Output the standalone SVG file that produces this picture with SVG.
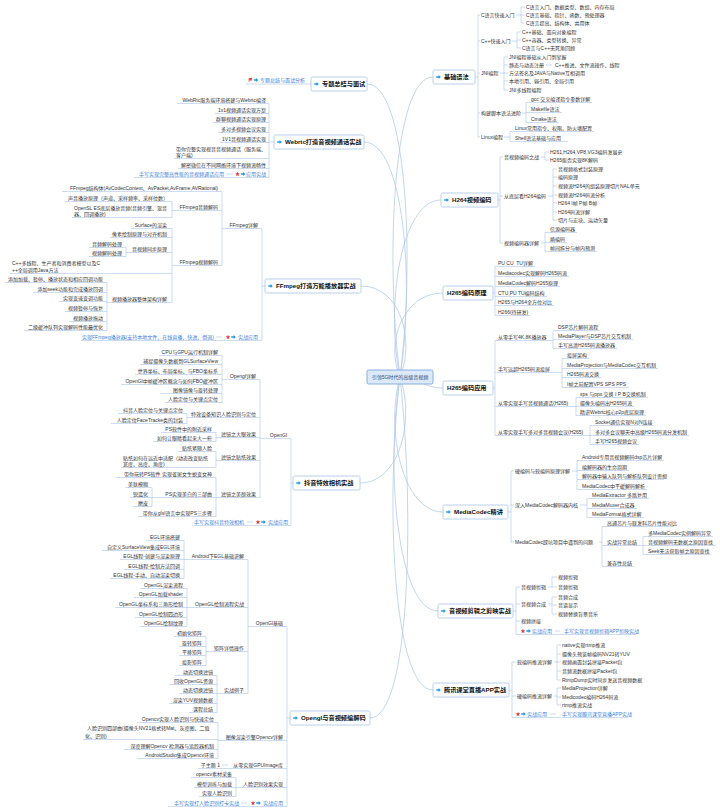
<svg xmlns="http://www.w3.org/2000/svg" width="720" height="811" viewBox="0 0 720 811">
<defs>
<style>
text{font-family:"Liberation Sans","Noto Sans CJK SC",sans-serif;font-size:5px;fill:#333}
.e{text-anchor:end}
.k{fill:#3a7fdc}
.n{font-size:6.2px;font-weight:bold;fill:#111}
.r{text-anchor:middle;fill:#2a4f80}
.ln{fill:none;stroke:#a9c5e8;stroke-width:0.6}
.cv{fill:none;stroke:#b3cbea;stroke-width:0.8}
.box{fill:#fff;stroke:#a7c4e8;stroke-width:0.8}
.root{fill:#dbe9f8;stroke:#6f9fd8;stroke-width:0.8}
</style>
<symbol id="arr" viewBox="0 0 10 10"><path d="M0.5 3.6H5.2V0.8L9.6 5 5.2 9.2V6.4H0.5Z" fill="#1f9be6"/></symbol>
<symbol id="star" viewBox="0 0 10 10"><polygon points="5,0.5 6.3,3.6 9.6,3.8 7,6 7.9,9.3 5,7.5 2.1,9.3 3,6 0.4,3.8 3.7,3.6" fill="#e23b3b"/></symbol>
<symbol id="flag" viewBox="0 0 10 10"><path d="M2 1V9.5" stroke="#e23b3b" stroke-width="1.2"/><path d="M2.5 1.2H8.6L7 3.5 8.6 5.8H2.5Z" fill="#e23b3b"/></symbol>
</defs>
<rect width="720" height="811" fill="#fff"/>

<g id="connectors">
<path class="cv" d="M400 377C385 257 393 77 433 77M400 377C385 306 401 200 441 200M400 377C385 343 403 293 443 293M400 377C420 378 423 388 443 388M400 377C385 431 403 512 443 512M400 377C385 471 398 611 438 611M400 377C385 502 393 690 433 690M400 377C415 260 407 84 367 84M400 377C415 283 404 142 364 142M400 377C415 341 401 286 361 286M400 377C415 419 400 483 360 483M400 377C415 513 410 718 370 718"/>
<path class="ln" d="M475 77H478M478 15V137M478 15H480M478 41H480M478 73H480M478 113H480M478 137H480
M516 15H521M521 7V23M521 7H525M521 15H525M521 23H525
M512 41H517M517 32V48M517 32H521M517 40H521M517 48H521
M500 73H504M504 57V90M504 57H508M504 65H508M504 73H508M504 81H508M504 90H508M546 65H552
M522 113H526M526 102.5V122.5M526 102.5H592M526 112.5H562M526 122.5H559
M504 137H510M510 131.5V141.5M510 131.5H594M510 141.5H568"/>
<path class="ln" d="M498 200H500M500 157V243M500 157H503M500 196H503M500 243H503
M541 157H545M545 152V160M545 152H549M545 160H549
M548 196H553M553 169V220M553 169H557M553 177H557M553 186H557M553 195H557M553 203H557M553 212H557M553 220H557
M541 243H545M545 232.5V251.5M545 232.5H577M545 242.5H567M545 251.5H597"/>
<path class="ln" d="M493 293H495M495 266.5V315.5M495 266.5H535M495 276.5H569M495 286.5H560M495 296.5H547M495 305.5H554M495 315.5H530"/>
<path class="ln" d="M493 388H495M495 340.5V435.5M495 340.5H553M495 372.5H562M495 406.5H576M495 435.5H590
M553 330.5V348.5M553 330.5H600M553 339.5H633M553 348.5H617
M562 358.5V387.5M562 358.5H589M562 368.5H658M562 377.5H601M562 387.5H629
M576 397.5V415.5M576 397.5H648M576 406.5H634M576 415.5H646
M590 425.5V444.5M590 425.5H654M590 435.5H689M590 444.5H639"/>
<path class="ln" d="M508 512H511M511 471V542M511 471H514M511 505H514M511 542H514
M572 471H577M577 460.5V489.5M577 460.5H664M577 470.5H629M577 479.5H664M577 489.5H647
M580 505H587M587 498.5V517.5M587 498.5H649M587 508.5H637M587 517.5H644
M599 542H602M602 526.5V566.5M602 526.5H674M602 545.5H643M602 566.5H634
M643 536.5V554.5M643 536.5H713M643 545.5H715M643 554.5H711"/>
<path class="ln" d="M513 611H516M516 587V634.5M516 587H520M516 604H520M516 621H520M516 634.5H636
M548 587H552M552 577V587M552 577H557M552 587H557
M548 604H552M552 597V614M552 597H557M552 605H557M552 614H557M555 631H560"/>
<path class="ln" d="M509 690H512M512 662V717.5M512 662H516M512 696H516M512 717.5H628
M554 662H557M557 645V680M557 645H561M557 654H561M557 662H561M557 671H561M557 680H561
M554 696H557M557 688V705M557 688H561M557 697H561M557 705H561M550 714H556"/>
<path class="ln" d="M246 84H311"/>
<path class="ln" d="M269 142H274M269 103.5V177.5M177 103.5H269M215 113.5H269M213 122.5H269M218 132.5H269M220 142.5H269M174 158.5H269M178 168.5H269M134 177.5H269M226 174H233"/>
<path class="ln" d="M262 286H265M262 228.5V340.5M222 228.5H262M222 191.5V265.5M62 191.5H222
M172 210.5H222M172 201.5V217.5M65 201.5H172M72 217.5H172
M172 265.5H222M172 228.5V302.5M131 228.5H172M110 237.5H172M126 252.5H172M126 247.5V256.5M89 247.5H126M89 256.5H126M10 273.5H172
M107 302.5H172M107 282.5V330.5M5 282.5H107M33 292.5H107M59 301.5H107M65 311.5H107M69 321.5H107M24 330.5H107
M81 340.5H262M216 337H222"/>
<path class="ln" d="M291 483H293M291 438.5V525.5M260 438.5H291M260 379.5V497.5
M222 379.5H260M222 355.5V402.5M159 355.5H222M140 364.5H222M135 374.5H222M121 384.5H222M160 393.5H222M165 402.5H222
M187 417.5H260M187 413.5V423.5M118 413.5H187M111 423.5H187
M216 437.5H260M216 432.5V441.5M161 432.5H216M153 441.5H216
M216 460.5H260M216 451.5V467.5M178 451.5H216M121 467.5H216
M216 497.5H260M216 477.5V516.5M116 477.5H216M152 497.5H216M152 487.5V506.5M125 487.5H152M130 497.5H152M133 506.5H152M138 516.5H216
M192 525.5H291M247 522H253"/>
<path class="ln" d="M287 718H290M287 626.5V806.5M248 626.5H287M248 559.5V693.5
M184 559.5H248M184 540.5V578.5M146 540.5H184M102 550.5H184M120 559.5H184M124 569.5H184M110 578.5H184
M187 607.5H248M187 588.5V626.5M140 588.5H187M134 597.5H187M115 607.5H187M135 617.5H187M140 626.5H187
M206 651.5H248M206 636.5V665.5M174 636.5H206M179 646.5H206M179 655.5H206M179 665.5H206
M217 693.5H248M217 675.5V712.5M175 675.5H217M169 684.5H217M179 693.5H217M169 703.5H217M189 712.5H217
M218 740.5H287M218 722.5V758.5M137 722.5H218M83 739.5H218M124 749.5H218M137 758.5H218
M198 768.5H287M222 765H228
M236 787.5H287M236 777.5V796.5M191 777.5H236M194 787.5H236M199 796.5H236
M168 806.5H287M241 803H247"/>
</g>

<g id="root"><rect class="root" x="367" y="370" width="66" height="14" rx="1.5"/><text class="r" x="400" y="378.8">引领5G时代的高级音视频</text></g>

<g id="n-jichu"><rect class="box" x="433" y="70" width="42" height="14" rx="1.5"/><use href="#arr" x="436" y="74.5" width="5" height="5"/><text class="n" x="444" y="79.2">基础语法</text></g>
<g id="t-jichu">
<text x="481" y="16.8">C语言快速入门</text>
<text x="526" y="8.8">C语言入门、数据类型、数组、内存布局</text>
<text x="526" y="16.8">C语言基础、指针、函数、预处理器</text>
<text x="526" y="24.8">C语言提高、结构体、共用体</text>
<text x="481" y="42.8">C++快速入门</text>
<text x="522" y="33.8">C++基础、面向对象编程</text>
<text x="522" y="41.8">C++容器、类型转换、异常</text>
<text x="522" y="49.8">C语言与C++无死角回顾</text>
<text x="481" y="74.8">JNI编程</text>
<text x="509" y="58.8">JNI编程基础从入门到掌握</text>
<text x="509" y="66.8">静态与动态注册</text>
<text x="555" y="66.8">C++推进、文件流操作、线程</text>
<text x="509" y="74.8">方法签名及JAVA与Native互相调用</text>
<text x="509" y="82.8">本地引用、弱引用、全局引用</text>
<text x="509" y="91.8">JNI多线程编程</text>
<text x="481" y="114.8">构建脚本语法进阶</text>
<text x="531" y="100.8">gcc 交叉编译指令参数详解</text>
<text x="531" y="110.8">Makefile语法</text>
<text x="531" y="120.8">Cmake语法</text>
<text x="481" y="138.8">Linux编程</text>
<text x="515" y="129.8">Linux常用指令、权限、防火墙配置</text>
<text x="515" y="139.8">Shell语法基础与应用</text>
</g>

<g id="n-h264"><rect class="box" x="441" y="193" width="57" height="14" rx="1.5"/><use href="#arr" x="444" y="197.5" width="5" height="5"/><text class="n" x="452" y="202.2">H264视频编码</text></g>
<g id="t-h264">
<text x="504" y="158.8">音视频编码之战</text>
<text x="550" y="153.8">H261,H264,VP8,VG3编码发展史</text>
<text x="550" y="161.8">H265能否实现8K解码</text>
<text x="504" y="197.8">从底层看H264编码</text>
<text x="558" y="170.8">音视频格式封装原理</text>
<text x="558" y="178.8">编码原理</text>
<text x="558" y="187.8">视频流H264的组装原理切片NAL单元</text>
<text x="558" y="196.8">视频流H264码流分析</text>
<text x="558" y="204.8">H264 I帧 P帧 B帧</text>
<text x="558" y="213.8">H264码流详解</text>
<text x="558" y="221.8">切片与宏块、运动矢量</text>
<text x="504" y="244.8">视频编码器详解</text>
<text x="550" y="230.8">信源编码器</text>
<text x="550" y="240.8">熵编码</text>
<text x="550" y="249.8">帧间拆分与帧内预测</text>
</g>

<g id="n-h265y"><rect class="box" x="443" y="286" width="50" height="14" rx="1.5"/><text class="n" x="447" y="295.2">H265编码原理</text></g>
<g id="t-h265y">
<text x="498" y="264.8">PU CU&#160; TU详解</text>
<text x="498" y="274.8">Mediacodec实现解码H265码流</text>
<text x="498" y="284.8">MediaCodec解码H265原理</text>
<text x="498" y="294.8">CTU,PU TU编码结构</text>
<text x="498" y="303.8">H265与H264全方位对比</text>
<text x="498" y="313.8">H266(待研发)</text>
</g>

<g id="n-h265a"><rect class="box" x="443" y="381" width="50" height="14" rx="1.5"/><text class="n" x="447" y="390.2">H265编码应用</text></g>
<g id="t-h265a">
<text x="498" y="338.8">从零手写4K,8K播放器</text>
<text x="558" y="328.8">DSP芯片解码流程</text>
<text x="558" y="337.8">MediaPlayer与DSP芯片交互机制</text>
<text x="558" y="346.8">手写高清H265码流播放器</text>
<text x="498" y="370.8">手写远超H265码流投屏</text>
<text x="567" y="356.8">投屏架构</text>
<text x="567" y="366.8">MediaProjection与MediaCodec交互机制</text>
<text x="567" y="375.8">H265码流交换</text>
<text x="567" y="385.8">I帧之前配置VPS SPS PPS</text>
<text x="498" y="404.8">从零实现手写音视频通话(H265)</text>
<text x="580" y="395.8">sps 与pps 交换 I P B交换机制</text>
<text x="580" y="404.8">摄像头编码出H265码流</text>
<text x="580" y="413.8">精讲Webrtc核心p2p底层原理</text>
<text x="498" y="433.8">从零实现手写多对多音视频会议(H265)</text>
<text x="595" y="423.8">Socket通信实现N对N连接</text>
<text x="595" y="433.8">多对多会议聊天中高级H265码流分发机制</text>
<text x="595" y="442.8">手写H265视频会议</text>
</g>

<g id="n-mc"><rect class="box" x="443" y="505" width="65" height="14" rx="1.5"/><use href="#arr" x="446" y="509.5" width="5" height="5"/><text class="n" x="454" y="514.2">MediaCodec精讲</text></g>
<g id="t-mc">
<text x="515" y="472.8">硬编码与软编码原理详解</text>
<text x="582" y="458.8">Android专用音视频解码dsp芯片详解</text>
<text x="582" y="468.8">编解码器的生命周期</text>
<text x="582" y="477.8">解码器中输入队列与解析队列设计思想</text>
<text x="582" y="487.8">MediaCodec中平缓解码解析</text>
<text x="515" y="506.8">深入MediaCodec解码器内核</text>
<text x="592" y="496.8">MediaExtractor 多路复用</text>
<text x="592" y="506.8">MediaMuxer合成器</text>
<text x="592" y="515.8">MediaFormat格式详解</text>
<text x="515" y="543.8">MediaCodec踩坑项目中遇到的问题</text>
<text x="607" y="524.8">高通芯片与联发科芯片性能对比</text>
<text x="607" y="543.8">实战异常总结</text>
<text x="607" y="564.8">兼容性总结</text>
<text x="648" y="534.8">多MediaCodec实例解码异常</text>
<text x="648" y="543.8">音视频解码无数据之原因查找</text>
<text x="648" y="552.8">Seek无法获取帧之原因查找</text>
</g>

<g id="n-jy"><rect class="box" x="438" y="604" width="75" height="14" rx="1.5"/><use href="#arr" x="441" y="608.5" width="5" height="5"/><text class="n" x="449" y="613.2">音视频剪辑之剪映实战</text></g>
<g id="t-jy">
<text x="521" y="588.8">音视频剪辑</text>
<text x="558" y="578.8">视频剪辑</text>
<text x="558" y="588.8">音频剪辑</text>
<text x="521" y="605.8">音视频合成</text>
<text x="558" y="598.8">音频合成</text>
<text x="558" y="606.8">音谱显示</text>
<text x="558" y="615.8">视频替换背景音乐</text>
<text x="521" y="622.8">视频拼接</text>
<use href="#star" x="520.5" y="628.5" width="5" height="5"/><use href="#arr" x="526" y="628.5" width="5" height="5"/>
<text class="k" x="532" y="632.8">实战应用</text>
<text class="k" x="564" y="632.8">手写实现音视频剪辑APP剪映实战</text>
</g>

<g id="n-tx"><rect class="box" x="433" y="683" width="76" height="14" rx="1.5"/><use href="#arr" x="436" y="687.5" width="5" height="5"/><text class="n" x="444" y="692.2">腾讯课堂直播APP实战</text></g>
<g id="t-tx">
<text x="517" y="663.8">软编码推流详解</text>
<text x="562" y="646.8">native实现rtmp推流</text>
<text x="562" y="655.8">摄像头预览帧编码NV21转YUV</text>
<text x="562" y="663.8">视频画面封装拼接Packet包</text>
<text x="562" y="672.8">音频流数据拼接Packet包</text>
<text x="562" y="681.8">RtmpDump实时同步发送音视频数据</text>
<text x="517" y="697.8">硬编码推流详解</text>
<text x="562" y="689.8">MediaProjection详解</text>
<text x="562" y="698.8">Medicodec编码H264码流</text>
<text x="562" y="706.8">rtmp推流实战</text>
<use href="#star" x="515.5" y="711.5" width="5" height="5"/><use href="#arr" x="521" y="711.5" width="5" height="5"/>
<text class="k" x="527" y="715.8">实战应用</text>
<text class="k" x="562" y="715.8">手写实现腾讯课堂直播APP实战</text>
</g>

<g id="n-zt"><rect class="box" x="311" y="77" width="56" height="14" rx="1.5"/><use href="#arr" x="314" y="81.5" width="5" height="5"/><text class="n" x="322" y="86.2">专题总结与面试</text></g>
<g id="t-zt">
<use href="#flag" x="248" y="77.5" width="5" height="5"/><use href="#arr" x="253.5" y="77.5" width="5" height="5"/>
<text class="k" x="260" y="81.8">专题总结与面试分析</text>
</g>

<g id="n-webrtc"><rect class="box" x="274" y="135" width="90" height="14" rx="1.5"/><use href="#arr" x="277" y="139.5" width="5" height="5"/><text class="n" x="285" y="144.2">Webrtc打造音视频通话实战</text></g>
<g id="t-webrtc">
<text class="e" x="266" y="101.8">WebRtc服务端环境搭建与Webrtc编译</text>
<text class="e" x="266" y="111.8">1v1视频通话实现方案</text>
<text class="e" x="266" y="120.8">群聊视频通话实现原理</text>
<text class="e" x="266" y="130.8">多对多视频会议实现</text>
<text class="e" x="266" y="140.8">1V1音视频通话实现</text>
<text x="176" y="150.8">带你完整实现视音音视频通话（服务端、<tspan x="176" dy="6">客户端)</tspan></text>
<text class="e" x="266" y="166.8">解密微信在不同网络环境下视频流畅性</text>
<text class="e k" x="266" y="175.8">应用实战</text>
<use href="#arr" x="240.5" y="171.5" width="5" height="5"/><use href="#star" x="235" y="171.5" width="5" height="5"/>
<text class="e k" x="224" y="175.8">手写实现完整高性能的音视频通话应用</text>
</g>

<g id="n-ffmpeg"><rect class="box" x="265" y="279" width="96" height="14" rx="1.5"/><use href="#arr" x="268" y="283.5" width="5" height="5"/><text class="n" x="276" y="288.2">FFmpeg打造万能播放器实战</text></g>
<g id="t-ffmpeg">
<text class="e" x="258" y="226.8">FFmpeg详解</text>
<text class="e" x="218" y="189.8">FFmpeg结构体(AvCodecContext、AvPacket,AvFrame,AVRational)</text>
<text class="e" x="218" y="208.8">FFmpeg音频解码</text>
<text class="e" x="168" y="199.8">声音播放原理（声道、采样频率、采样位数）</text>
<text x="74" y="209.8">OpenSL ES底层播放音频(音频引擎、混音<tspan x="74" dy="6">器、回调播放)</tspan></text>
<text class="e" x="218" y="263.8">FFmpeg视频解码</text>
<text class="e" x="167" y="226.8">Surface的渲染</text>
<text class="e" x="167" y="235.8">像素绘制原理与对齐机制</text>
<text class="e" x="167" y="250.8">音视频同步原理</text>
<text class="e" x="122" y="245.8">音频解码处理</text>
<text class="e" x="122" y="254.8">视频解码处理</text>
<text x="12" y="264.8">C++多线程、生产者和消费者模型以及C<tspan x="12" dy="7">++全局调用Java方法</tspan></text>
<text class="e" x="167" y="300.8">视频播放器整体架构详解</text>
<text class="e" x="103" y="280.8">添加加载、暂停、播放状态和相应回调功能</text>
<text class="e" x="103" y="290.8">添加seek功能和完成播放回调</text>
<text class="e" x="103" y="299.8">实现变速变调功能</text>
<text class="e" x="103" y="309.8">视频暂停与恢复</text>
<text class="e" x="103" y="319.8">视频播放拖动</text>
<text class="e" x="103" y="328.8">二级缓冲队列实现解码性能最优化</text>
<text class="e k" x="258" y="338.8">实战应用</text>
<use href="#arr" x="231" y="334.5" width="5" height="5"/><use href="#star" x="225.5" y="334.5" width="5" height="5"/>
<text class="e k" x="214" y="338.8">实现FFmpeg播放器(支持本地文件、在线直播、快进、倒退)</text>
</g>

<g id="n-douyin"><rect class="box" x="293" y="476" width="67" height="14" rx="1.5"/><use href="#arr" x="296" y="480.5" width="5" height="5"/><text class="n" x="304" y="485.2">抖音特效相机实战</text></g>
<g id="t-douyin">
<text class="e" x="287" y="436.8">OpenGl</text>
<text class="e" x="256" y="377.8">Opengl详解</text>
<text class="e" x="218" y="353.8">CPU与GPU运行机制详解</text>
<text class="e" x="218" y="362.8">捕捉摄像头数据到GLSurfaceView</text>
<text class="e" x="218" y="372.8">世界坐标、布局坐标、与FBO坐标系</text>
<text class="e" x="218" y="382.8">OpenGl中帧缓冲区概念与如何FBO缓冲区</text>
<text class="e" x="218" y="391.8">图像镜像与旋转处理</text>
<text class="e" x="218" y="400.8">人脸定位与关键点定位</text>
<text class="e" x="256" y="415.8">特效设备知识人脸识别与定位</text>
<text class="e" x="183" y="411.8">抖音人脸定位与关键点定位</text>
<text class="e" x="183" y="421.8">人脸定位FaceTracke类的封装</text>
<text class="e" x="256" y="435.8">滤镜之大眼效果</text>
<text class="e" x="212" y="430.8">PS软件中的附近采样</text>
<text class="e" x="212" y="439.8">如何让眼睛看起来大一些</text>
<text class="e" x="256" y="458.8">滤镜之贴纸效果</text>
<text class="e" x="212" y="449.8">贴纸紧随人脸</text>
<text x="123" y="459.8">贴纸如何在远近中适配（动态改变贴纸<tspan x="123" dy="6">宽度、高度、角度)</tspan></text>
<text class="e" x="256" y="495.8">滤镜之美颜效果</text>
<text class="e" x="212" y="475.8">带你玩转PS软件 实现雀斑女生蜕变女神</text>
<text class="e" x="212" y="495.8">PS实现美白的三部曲</text>
<text class="e" x="148" y="485.8">美肤模糊</text>
<text class="e" x="148" y="495.8">锐遗化</text>
<text class="e" x="148" y="504.8">磨皮</text>
<text class="e" x="212" y="514.8">带你从glsl语言中实现PS三步骤</text>
<text class="e k" x="288" y="523.8">实战应用</text>
<use href="#arr" x="261" y="519.5" width="5" height="5"/><use href="#star" x="255.5" y="519.5" width="5" height="5"/>
<text class="e k" x="244" y="523.8">手写实现抖音特效相机</text>
</g>

<g id="n-opengl"><rect class="box" x="290" y="711" width="80" height="14" rx="1.5"/><use href="#arr" x="293" y="715.5" width="5" height="5"/><text class="n" x="301" y="720.2">Opengl与音视频编解码</text></g>
<g id="t-opengl">
<text class="e" x="283" y="624.8">OpenGl基础</text>
<text class="e" x="244" y="557.8">Android下EGL基础讲解</text>
<text class="e" x="180" y="538.8">EGL环境搭建</text>
<text class="e" x="180" y="548.8">自定义SurfaceView集成EGL环境</text>
<text class="e" x="180" y="557.8">EGL线程-创建与渲染原理</text>
<text class="e" x="180" y="567.8">EGL线程-绘制方法回调</text>
<text class="e" x="180" y="576.8">EGL线程-手动、自动渲染切换</text>
<text class="e" x="244" y="605.8">OpenGL绘制流程实战</text>
<text class="e" x="183" y="586.8">OpenGL渲染流程</text>
<text class="e" x="183" y="595.8">OpenGL加载shader</text>
<text class="e" x="183" y="605.8">OpenGL坐标系和三角形绘制</text>
<text class="e" x="183" y="615.8">OpenGL绘制四边形</text>
<text class="e" x="183" y="624.8">OpenGL绘制纹理</text>
<text class="e" x="244" y="649.8">矩阵详情操作</text>
<text class="e" x="202" y="634.8">初始化矩阵</text>
<text class="e" x="202" y="644.8">旋转矩阵</text>
<text class="e" x="202" y="653.8">平移矩阵</text>
<text class="e" x="202" y="663.8">投影矩阵</text>
<text class="e" x="244" y="691.8">实战例子</text>
<text class="e" x="213" y="673.8">动态切换滤镜</text>
<text class="e" x="213" y="682.8">回收OpenGL资源</text>
<text class="e" x="213" y="691.8">动态切换滤镜</text>
<text class="e" x="213" y="701.8">渲染YUV视频数据</text>
<text class="e" x="213" y="710.8">课程总结</text>
<text class="e" x="283" y="738.8">图像渲染引擎Opencv详解</text>
<text class="e" x="214" y="720.8">Opencv实现人脸识别与快速定位</text>
<text x="87" y="729.8">人脸识别四部曲(摄像头NV21格式转Mat、灰度图、二值<tspan x="85" dy="8">化、识别)</tspan></text>
<text class="e" x="214" y="747.8">深度理解Opencv 检测器与追踪器机制</text>
<text class="e" x="214" y="756.8">AndroidStudio集成Opencv环境</text>
<text class="e" x="283" y="766.8">从零实现GPUImage库</text>
<text class="e" x="220" y="766.8">子主题 1</text>
<text class="e" x="283" y="785.8">人脸识别效果实现</text>
<text class="e" x="232" y="775.8">opencv素材采集</text>
<text class="e" x="232" y="785.8">模型训练与加载</text>
<text class="e" x="232" y="794.8">实现人脸识别</text>
<text class="e k" x="283" y="804.8">实战应用</text>
<use href="#arr" x="256" y="800.5" width="5" height="5"/><use href="#star" x="250.5" y="800.5" width="5" height="5"/>
<text class="e k" x="239" y="804.8">手写实现打人脸识别打卡实战</text>
</g>
</svg>
